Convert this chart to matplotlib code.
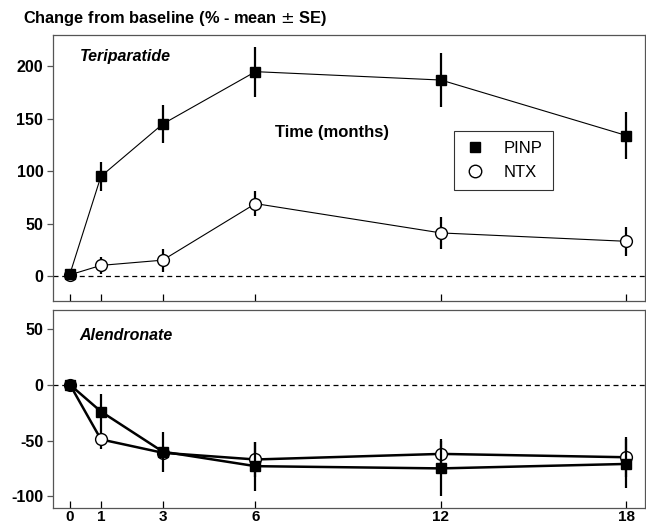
import numpy as np
import matplotlib
matplotlib.use("Agg")
import matplotlib.pyplot as plt
from matplotlib.lines import Line2D

# meses
meses = [0, 1, 3, 6, 12, 18]

# Teriparatide
teri_pinp = [2, 95, 145, 195, 187, 134]
teri_pinp_se = [0, 14, 18, 24, 26, 22]
teri_ntx = [1, 10, 15, 69, 41, 33]
teri_ntx_se = [0, 8, 11, 12, 15, 14]

# Alendronate
alen_pinp = [0, -24, -60, -73, -75, -71]
alen_pinp_se = [0, 16, 18, 22, 25, 22]
alen_ntx = [0, -49, -61, -67, -62, -65]
alen_ntx_se = [0, 9, 0, 16, 13, 18]

plt.rcParams['font.family'] = ['Liberation Sans', 'DejaVu Sans']

fig = plt.figure(figsize=(6.46, 5.28), dpi=100)
W, H = 646, 528
ax1 = fig.add_axes([53 / W, 1 - 301 / H, 592 / W, 266 / H])
ax2 = fig.add_axes([53 / W, 1 - 508 / H, 592 / W, 198 / H])

frame = '#555555'
fs = 11.5


def desenha(ax, pinp, pinp_se, ntx, ntx_se, lw):
    ax.axhline(0, color='black', lw=0.9, ls=(0, (4, 3)), zorder=1)
    ax.errorbar(meses, ntx, yerr=ntx_se, fmt='-', color='black', lw=lw,
                elinewidth=1.6, capsize=0, zorder=2)
    ax.plot(meses, ntx, 'o', ms=8.5, mfc='white', mec='black', mew=1.0, zorder=3)
    ax.errorbar(meses, pinp, yerr=pinp_se, fmt='-', color='black', lw=lw,
                elinewidth=1.6, capsize=0, zorder=4)
    ax.plot(meses, pinp, 's', ms=7.5, mfc='black', mec='black', zorder=5)
    ax.set_xlim(-0.55, 18.6)
    ax.set_xticks(meses)
    for s in ax.spines.values():
        s.set_color(frame)
        s.set_linewidth(0.9)
    ax.tick_params(axis='x', direction='in', length=5, color='black', width=0.9)
    ax.tick_params(axis='y', direction='out', length=4, color=frame, width=0.9, pad=3)


desenha(ax1, teri_pinp, teri_pinp_se, teri_ntx, teri_ntx_se, 0.8)
ax1.set_ylim(-24, 230)
ax1.set_yticks([0, 50, 100, 150, 200])
ax1.set_yticklabels(['0', '50', '100', '150', '200'], fontweight='bold', fontsize=fs)
ax1.set_xticklabels([])
ax1.text(0.045, 0.92, 'Teriparatide', transform=ax1.transAxes, fontsize=fs,
         fontweight='bold', fontstyle='italic', va='center')
ax1.text(0.472, 0.635, 'Time (months)', transform=ax1.transAxes, fontsize=12,
         fontweight='bold', ha='center', va='center')

handles = [Line2D([], [], ls='none', marker='s', ms=7, color='black'),
           Line2D([], [], ls='none', marker='o', ms=9, mfc='white', mec='black', mew=1.0)]
leg = ax1.legend(handles, ['PINP', 'NTX'], loc='upper left',
                 bbox_to_anchor=(0.677, 0.64), frameon=True, fancybox=False,
                 edgecolor='black', fontsize=12, handlelength=1.4,
                 handletextpad=1.0, borderpad=0.6, labelspacing=0.55,
                 borderaxespad=0)
leg.get_frame().set_linewidth(0.8)

desenha(ax2, alen_pinp, alen_pinp_se, alen_ntx, alen_ntx_se, 1.8)
ax2.set_ylim(-110.5, 67)
ax2.set_yticks([-100, -50, 0, 50])
ax2.set_yticklabels(['-100', '-50', '0', '50'], fontweight='bold', fontsize=fs)
ax2.set_xticklabels([str(m) for m in meses], fontweight='bold', fontsize=11)
ax2.tick_params(axis='x', pad=1.5)
ax2.text(0.045, 0.87, 'Alendronate', transform=ax2.transAxes, fontsize=fs,
         fontweight='bold', fontstyle='italic', va='center')

fig.text(23 / W, 1 - 18 / H, 'Change from baseline (% - mean $\\pm$ SE)',
         fontsize=11.8, fontweight='bold', va='center', ha='left')

fig.savefig('out.png', dpi=100)
